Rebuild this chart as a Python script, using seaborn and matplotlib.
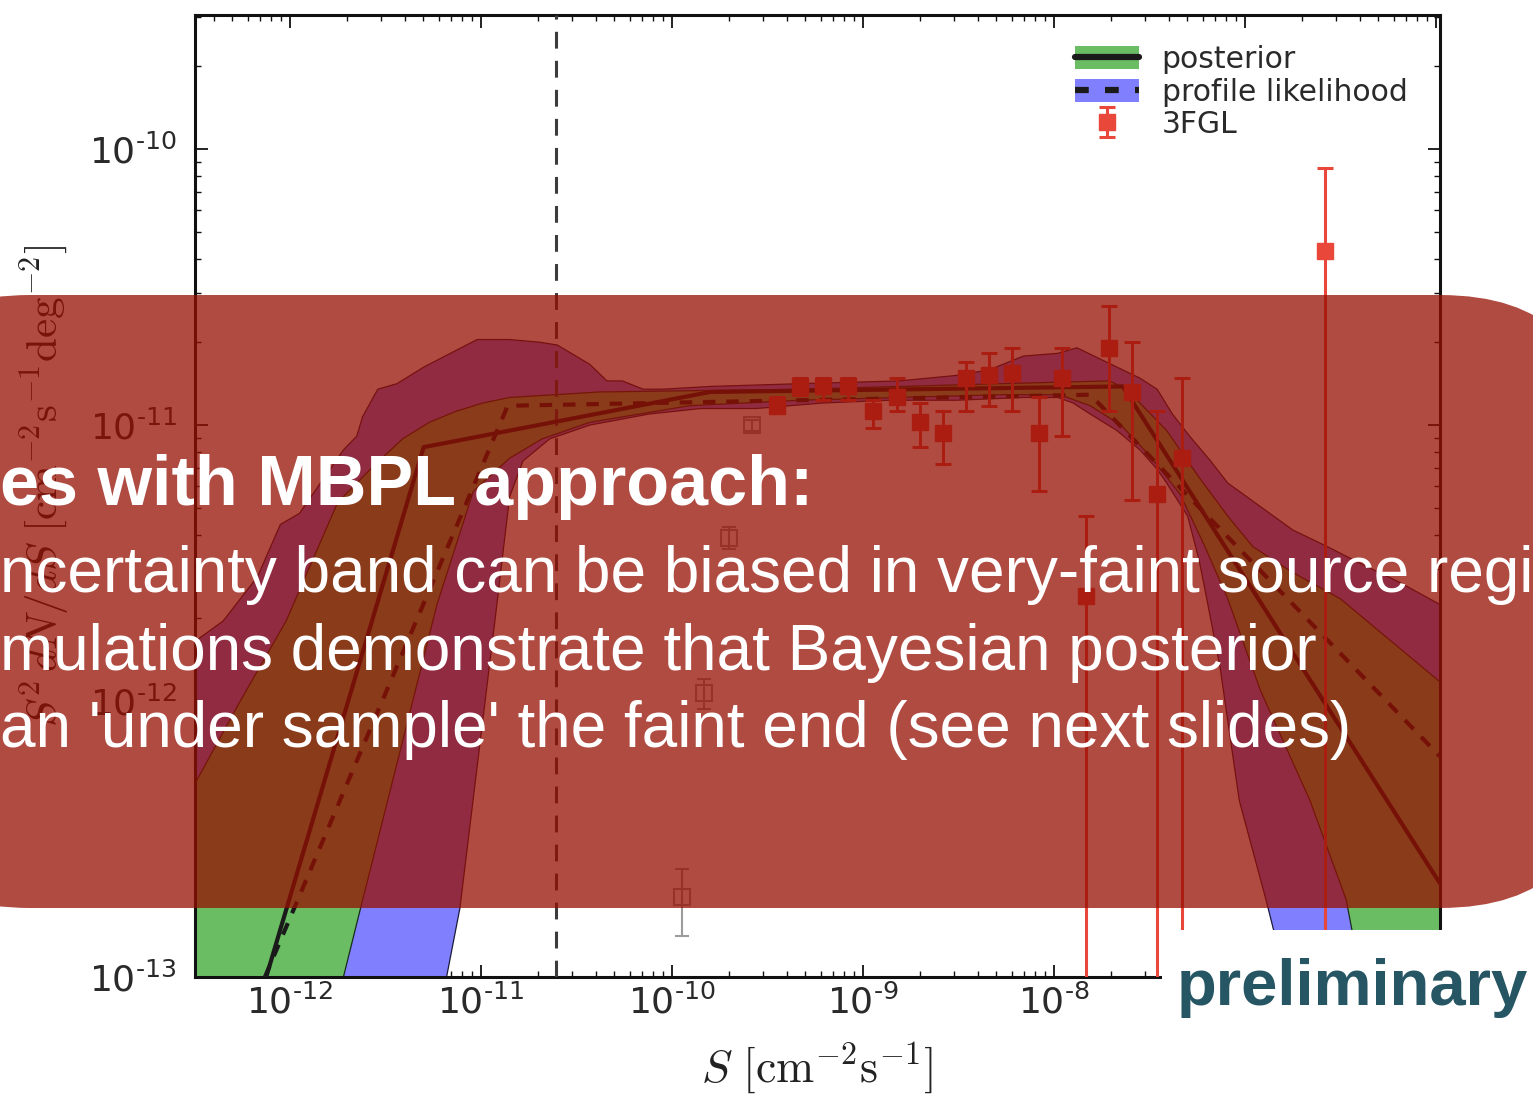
import numpy as np
import matplotlib
matplotlib.use("Agg")
import matplotlib.pyplot as plt
import seaborn as sns
from matplotlib.patches import FancyBboxPatch, Rectangle, Patch
from matplotlib.lines import Line2D
from matplotlib.ticker import LogLocator, FuncFormatter

# ------------------------------------------------------------------
# Data (log10 values)
# ------------------------------------------------------------------
# profile-likelihood band (blue): upper and lower edges
prof_hi_logS = [-12.49, -12.35, -12.17, -12.05, -11.95, -11.83, -11.72, -11.65, -11.62, -11.54,
                -11.44, -11.30, -11.16, -11.02, -10.85, -10.69, -10.60, -10.43, -10.34, -10.26,
                -10.15, -10.05, -9.80, -9.33, -8.81, -8.51, -8.34, -8.16, -7.98, -7.88,
                -7.76, -7.64, -7.55, -7.46, -7.38, -7.29, -7.18, -7.09, -6.99, -6.85,
                -6.75, -6.57, -6.40, -6.19, -5.98]
prof_hi_logY = [-11.78, -11.71, -11.55, -11.36, -11.32, -11.20, -11.09, -11.04, -10.97, -10.87,
                -10.85, -10.79, -10.74, -10.69, -10.69, -10.70, -10.71, -10.78, -10.84, -10.84,
                -10.87, -10.87, -10.86, -10.85, -10.84, -10.82, -10.80, -10.75, -10.74, -10.72,
                -10.76, -10.80, -10.83, -10.87, -10.96, -11.04, -11.13, -11.21, -11.26, -11.33,
                -11.38, -11.44, -11.50, -11.57, -11.65]
prof_lo_logS = [-12.49, -11.18, -11.11, -10.92, -10.85, -10.78, -10.64, -10.43, -10.12, -9.85,
                -9.56, -9.21, -8.86, -8.51, -8.16, -7.98, -7.90, -7.81, -7.67, -7.55,
                -7.46, -7.41, -7.30, -7.24, -7.20, -7.13, -7.03, -6.89, -6.85, -6.79, -5.98]
prof_lo_logY = [-14.00, -13.00, -12.75, -11.67, -11.26, -11.13, -11.05, -11.00, -10.96, -10.94,
                -10.94, -10.92, -10.91, -10.91, -10.90, -10.90, -10.92, -10.96, -11.02, -11.09,
                -11.16, -11.21, -11.33, -11.49, -11.63, -11.88, -12.36, -12.72, -12.83, -13.00, -14.50]

# posterior band (green): upper and lower edges
post_hi_logS = [-12.49, -12.26, -12.02, -11.75, -11.55, -11.41, -11.27, -11.13, -10.99, -10.85,
                -10.38, -9.33, -8.28, -7.71, -7.62, -7.41, -7.24, -7.09, -6.96, -6.76,
                -6.50, -5.98]
post_hi_logY = [-12.29, -12.00, -11.71, -11.28, -11.14, -11.05, -10.99, -10.95, -10.92, -10.90,
                -10.88, -10.87, -10.85, -10.84, -10.87, -11.02, -11.19, -11.33, -11.44, -11.53,
                -11.63, -11.93]
post_lo_logS = [-12.49, -11.72, -11.63, -11.23, -11.04, -10.85, -10.68, -10.43, -10.17, -9.91,
                -9.33, -8.28, -7.97, -7.81, -7.65, -7.50, -7.34, -7.21, -7.09, -6.92,
                -6.66, -6.47, -6.44, -6.37, -5.98]
post_lo_logY = [-14.00, -13.00, -12.75, -11.65, -11.24, -11.12, -11.05, -10.99, -10.96, -10.93,
                -10.91, -10.89, -10.89, -10.93, -11.00, -11.11, -11.25, -11.44, -11.63, -11.96,
                -12.36, -12.72, -12.83, -13.00, -13.60]

# best-fit curves
post_med_logS = [-12.15, -11.30, -9.80, -7.64, -5.98]
post_med_logY = [-13.06, -11.08, -10.88, -10.86, -12.66]
prof_best_logS = [-12.18, -10.86, -7.81, -5.98]
prof_best_logY = [-13.08, -10.93, -10.89, -12.20]

# 3FGL points with error bars
fgl_logS = [-9.45, -9.33, -9.21, -9.08, -8.95, -8.82, -8.70, -8.58, -8.46, -8.34,
            -8.22, -8.08, -7.96, -7.83, -7.71, -7.59, -7.46, -7.33, -6.58]
fgl_logY = [-10.93, -10.86, -10.86, -10.86, -10.95, -10.90, -10.99, -11.03, -10.83, -10.82,
            -10.81, -11.03, -10.83, -11.62, -10.72, -10.88, -11.25, -11.12, -10.37]
fgl_hi_logY = [-10.90, -10.83, -10.83, -10.83, -10.91, -10.83, -10.92, -10.95, -10.77, -10.74,
               -10.72, -10.90, -10.72, -11.33, -10.57, -10.70, -10.95, -10.83, -10.07]
fgl_lo_logY = [-10.95, -10.89, -10.91, -10.91, -11.01, -10.95, -11.08, -11.14, -10.95, -10.93,
               -10.95, -11.24, -11.04, -15.0, -10.95, -11.27, -15.0, -15.0, -15.0]

# faint grey points (hollow squares)
grey_logS = [-9.95, -9.83, -9.70, -9.58]
grey_logY = [-12.71, -11.97, -11.41, -11.00]
grey_hi_logY = [-12.61, -11.92, -11.37, -10.98]
grey_lo_logY = [-12.85, -12.03, -11.45, -11.02]

threshold_S = 2.47e-11

legend_labels = ["posterior", "profile likelihood", "3FGL"]
heading = "es with MBPL approach:"
body_lines = ["ncertainty band can be biased in very-faint source regi",
              "mulations demonstrate that Bayesian posterior",
              "an 'under sample' the faint end (see next slides)"]
stamp = "preliminary"

# ------------------------------------------------------------------
sns.set_theme(style="ticks")
plt.rcParams['font.family'] = ['DejaVu Sans']
plt.rcParams['mathtext.fontset'] = 'dejavusans'

W, H = 1533, 1095
fig = plt.figure(figsize=(W / 100, H / 100), dpi=100)
fig.patch.set_facecolor('white')
ax = fig.add_axes([195 / W, 1 - 977 / H, (1440 - 195) / W, (977 - 15) / H])
ax.set_facecolor('white')
ax.set_xscale('log')
ax.set_yscale('log')


def L(a):
    return 10.0 ** np.asarray(a, dtype=float)


GREEN = '#6abd63'
BLUE = '#8080ff'
RED = '#e8473a'
GREY = '#9c9c9c'

# bands
ax.fill(np.r_[L(prof_hi_logS), L(prof_lo_logS)[::-1]],
        np.r_[L(prof_hi_logY), L(prof_lo_logY)[::-1]],
        fc=BLUE, ec='#1a1a3a', lw=0.9, zorder=1)
ax.fill(np.r_[L(post_hi_logS), L(post_lo_logS)[::-1]],
        np.r_[L(post_hi_logY), L(post_lo_logY)[::-1]],
        fc=GREEN, ec='#1a2a1a', lw=0.9, zorder=2)

# threshold line
ax.axvline(threshold_S, color='#3c3c3c', lw=2.2, ls=(0, (5.5, 4)), zorder=3)

# best-fit curves
sns.lineplot(x=L(post_med_logS), y=L(post_med_logY), ax=ax, color='k', lw=3.0,
             sort=False, estimator=None, zorder=4)
sns.lineplot(x=L(prof_best_logS), y=L(prof_best_logY), ax=ax, color='k', lw=3.0,
             linestyle=(0, (3, 2.6)), sort=False, estimator=None, zorder=4)

# grey points
gy = L(grey_logY)
ax.errorbar(L(grey_logS), gy, yerr=[gy - L(grey_lo_logY), L(grey_hi_logY) - gy],
            fmt='s', mfc='none', mec=GREY, ecolor=GREY, ms=11, mew=1.5,
            elinewidth=1.5, capsize=5, capthick=1.5, zorder=3)

# 3FGL
fy = L(fgl_logY)
eb = ax.errorbar(L(fgl_logS), fy, yerr=[fy - L(fgl_lo_logY), L(fgl_hi_logY) - fy],
                 fmt='s', color=RED, ms=11, elinewidth=2.2, capsize=6, capthick=2.2,
                 zorder=5)

ax.set_xlim(10 ** -12.497, 10 ** -5.979)
ax.set_ylim(1e-13, 10 ** -9.514)

# legend
h1 = (Patch(fc=GREEN, ec='none'), Line2D([], [], color='k', lw=4.5))
h2 = (Patch(fc=BLUE, ec='none'), Line2D([], [], color='k', lw=4.5, ls=(0, (2.2, 2.6))))
ax.legend([h1, h2, eb], legend_labels, loc='upper left',
          bbox_to_anchor=(1075 / W, 1 - 45 / H), bbox_transform=fig.transFigure,
          frameon=False, fontsize=21.5, handlelength=2.15, handleheight=0.8,
          handletextpad=0.75, labelspacing=0.12, borderpad=0, borderaxespad=0,
          labelcolor='#2a2a2a')


# ticks & spines
def fmt_x(v, pos):
    e = int(round(np.log10(v)))
    if e > -8:
        return ''
    return r'$\mathdefault{10^{\text{-}%d}}$' % abs(e)


def fmt_y(v, pos):
    e = int(round(np.log10(v)))
    return r'$\mathdefault{10^{\text{-}%d}}$' % abs(e)


for axis in (ax.xaxis, ax.yaxis):
    axis.set_major_locator(LogLocator(base=10, numticks=30))
    axis.set_minor_locator(LogLocator(base=10, subs=np.arange(2, 10), numticks=30))
ax.xaxis.set_major_formatter(FuncFormatter(fmt_x))
ax.yaxis.set_major_formatter(FuncFormatter(fmt_y))
ax.tick_params(which='both', direction='in', top=True, right=True, color='#111111',
               labelcolor='#2a2a2a')
ax.tick_params(which='major', length=9, width=1.3, labelsize=26)
ax.tick_params(which='minor', length=4.5, width=1.0, labelbottom=False, labelleft=False)
ax.tick_params(axis='x', pad=5)
ax.tick_params(axis='y', pad=13)
for s in ax.spines.values():
    s.set_linewidth(2.2)
    s.set_color('#111111')

ax.set_xlabel(r'$S\ [\mathrm{cm}^{-2}\mathrm{s}^{-1}]$', fontsize=33,
              math_fontfamily='cm', color='#222222')
ax.xaxis.set_label_coords(0.5, -0.066)
ax.set_ylabel(r'$S^2\, dN/dS\ [\mathrm{cm}^{-2}\mathrm{s}^{-1}\mathrm{deg}^{-2}]$',
              fontsize=31, math_fontfamily='cm', color='#222222')
ax.yaxis.set_label_coords(-0.099, 0.51)

# ------------------------------------------------------------------
# slide overlay
ov = FancyBboxPatch((-130 / W, 1 - 908 / H), 1730 / W, 613 / H,
                    boxstyle=f"round,pad=0,rounding_size={160 / W}",
                    mutation_aspect=W / H, transform=fig.transFigure,
                    fc=(150 / 255, 15 / 255, 2 / 255), ec='none', alpha=0.75, zorder=10)
fig.add_artist(ov)

fig.text(0, 1 - 505 / H, heading, fontsize=50.5, fontweight='bold', color='white',
         family=['Liberation Sans', 'DejaVu Sans'], ha='left', va='baseline', zorder=11)
for txt, base in zip(body_lines, [592, 670, 747]):
    fig.text(0, 1 - base / H, txt, fontsize=46, color='white',
             family=['Liberation Sans', 'DejaVu Sans'], ha='left', va='baseline', zorder=11)

fig.add_artist(Rectangle((1162 / W, 0), (W - 1162) / W, (H - 930) / H,
                         transform=fig.transFigure, fc='white', ec='none', zorder=12))
fig.text(1177 / W, 1 - 1005 / H, stamp, fontsize=47, fontweight='bold', color='#265563',
         family=['Liberation Sans', 'DejaVu Sans'], ha='left', va='baseline', zorder=13)

fig.savefig('out.png', dpi=100)
